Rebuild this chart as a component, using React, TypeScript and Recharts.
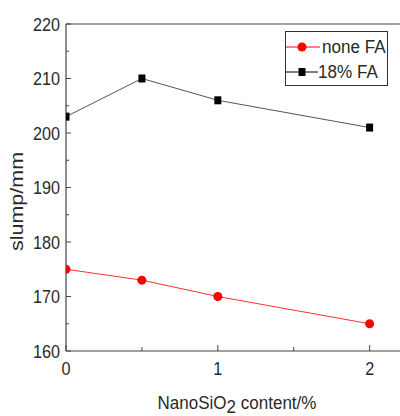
import React from 'react';
import { LineChart, Line, XAxis, YAxis, ReferenceLine, Legend, Label } from 'recharts';

const contents = [0, 0.5, 1, 2];
const noneFA = [175, 173, 170, 165];
const fa18 = [203, 210, 206, 201];
const xTicks = [0, 0.5, 1, 1.5, 2];
const xLabelTicks = [0, 1, 2];
const yTicks = [160, 165, 170, 175, 180, 185, 190, 195, 200, 205, 210, 215, 220];
const yLabelTicks = [160, 170, 180, 190, 200, 210, 220];
const seriesNames = ['none FA', '18% FA'];

const data = contents.map((c, i) => ({ x: c, none: noneFA[i], fa: fa18[i] }));

const FONT = '"Liberation Sans", Arial, sans-serif';
const AXIS = '#444';
const TXT = '#2a2a2a';
const SX = 0.9;

const YTick = (props: any) => {
  const { x, y, payload } = props;
  const v = payload.value;
  const major = yLabelTicks.includes(v);
  return (
    <g>
      <line x1={x + 6} x2={x + 6 + (major ? 5 : 3)} y1={y} y2={y} stroke={AXIS} strokeWidth={1} />
      {major && (
        <text
          transform={`translate(${x},${y + 6.5}) scale(${SX},1)`}
          x={0}
          y={0}
          textAnchor="end"
          fontSize={18}
          fontFamily={FONT}
          fill={TXT}
        >
          {v}
        </text>
      )}
    </g>
  );
};

const XTick = (props: any) => {
  const { x, y, payload } = props;
  const v = payload.value;
  const major = xLabelTicks.includes(v);
  return (
    <g>
      <line x1={x} x2={x} y1={y - 8} y2={y - 8 - (major ? 6 : 4)} stroke={AXIS} strokeWidth={1} />
      {major && (
        <text
          transform={`translate(${x},${y + 15.5}) scale(${SX},1)`}
          x={0}
          y={0}
          textAnchor="middle"
          fontSize={18}
          fontFamily={FONT}
          fill={TXT}
        >
          {v}
        </text>
      )}
    </g>
  );
};

const Square = (props: any) => {
  const { cx, cy } = props;
  if (cx == null || cy == null) return null;
  return <rect x={cx - 3.5} y={cy - 4} width={7} height={8} fill="#000" />;
};

const Circle = (props: any) => {
  const { cx, cy } = props;
  if (cx == null || cy == null) return null;
  return <circle cx={cx} cy={cy} r={4.5} fill="#ff0000" />;
};

const LegendBox = () => (
  <div
    style={{
      border: '1px solid #333',
      background: '#fff',
      width: 101,
      height: 53,
      fontFamily: FONT,
      fontSize: 18,
      color: TXT,
      boxSizing: 'content-box',
      overflow: 'hidden',
    }}
  >
    <div style={{ display: 'flex', alignItems: 'center', height: 26, marginTop: 2, whiteSpace: 'nowrap' }}>
      <svg width={34} height={20} style={{ display: 'block', flex: 'none' }}>
        <line x1={0} x2={34} y1={10} y2={10} stroke="#ff0000" strokeWidth={1} />
        <circle cx={16} cy={10} r={4.5} fill="#ff0000" />
      </svg>
      <span style={{ marginLeft: 2, display: 'inline-block', transform: 'scaleX(0.95)', transformOrigin: 'left center' }}>
        {seriesNames[0]}
      </span>
    </div>
    <div style={{ display: 'flex', alignItems: 'center', height: 24, whiteSpace: 'nowrap' }}>
      <svg width={32} height={20} style={{ display: 'block', flex: 'none' }}>
        <line x1={0} x2={32} y1={10} y2={10} stroke="#000" strokeWidth={1} />
        <rect x={12.5} y={6} width={7} height={8} fill="#000" />
      </svg>
      <span style={{ display: 'inline-block', transform: 'scaleX(0.95)', transformOrigin: 'left center' }}>
        {seriesNames[1]}
      </span>
    </div>
  </div>
);

const XAxisLabel = (props: any) => {
  const { viewBox } = props;
  const cx = viewBox.x + viewBox.width / 2 + 4;
  const y = viewBox.y + 58;
  return (
    <text
      transform={`translate(${cx},${y}) scale(0.92,1)`}
      x={0}
      y={0}
      textAnchor="middle"
      fontSize={18.5}
      fontFamily={FONT}
      fill={TXT}
    >
      NanoSiO
      <tspan dy={4}>2</tspan>
      <tspan dy={-4}> content/%</tspan>
    </text>
  );
};

const YAxisLabel = (props: any) => {
  const { viewBox } = props;
  const cy = viewBox.y + viewBox.height / 2 + 14;
  const cx = 23;
  return (
    <text
      transform={`translate(${cx},${cy}) rotate(-90) scale(1,0.82)`}
      x={0}
      y={0}
      textAnchor="middle"
      fontSize={21.5}
      fontFamily={FONT}
      fill={TXT}
    >
      slump/mm
    </text>
  );
};

export default function App() {
  return (
    <div style={{ position: 'absolute', left: 0, top: 0, background: '#fff' }}>
      <LineChart width={400} height={416} data={data} margin={{ top: 24, right: 0, bottom: 0, left: 0 }}>
        <XAxis
          dataKey="x"
          type="number"
          domain={[0, 2.2]}
          ticks={xTicks}
          interval={0}
          allowDataOverflow
          height={65}
          tickSize={0}
          tickMargin={8}
          tick={<XTick />}
          axisLine={{ stroke: AXIS, strokeWidth: 1.2 }}
          tickLine={false}
        >
          <Label content={<XAxisLabel />} />
        </XAxis>
        <YAxis
          type="number"
          domain={[160, 220]}
          ticks={yTicks}
          interval={0}
          width={66}
          tickSize={0}
          tickMargin={6}
          tick={<YTick />}
          axisLine={{ stroke: AXIS, strokeWidth: 1.2 }}
          tickLine={false}
        >
          <Label content={<YAxisLabel />} />
        </YAxis>
        <ReferenceLine y={220} stroke={AXIS} strokeWidth={1.2} />
        <Line
          dataKey="none"
          name={seriesNames[0]}
          stroke="#ff3030"
          strokeWidth={1}
          dot={<Circle />}
          isAnimationActive={false}
        />
        <Line
          dataKey="fa"
          name={seriesNames[1]}
          stroke="#555"
          strokeWidth={1}
          dot={<Square />}
          isAnimationActive={false}
        />
        <Legend
          layout="vertical"
          align="center"
          verticalAlign="middle"
          content={<LegendBox />}
          wrapperStyle={{ position: 'absolute', left: 285, top: 31, width: 103, height: 55 }}
        />
      </LineChart>
    </div>
  );
}
